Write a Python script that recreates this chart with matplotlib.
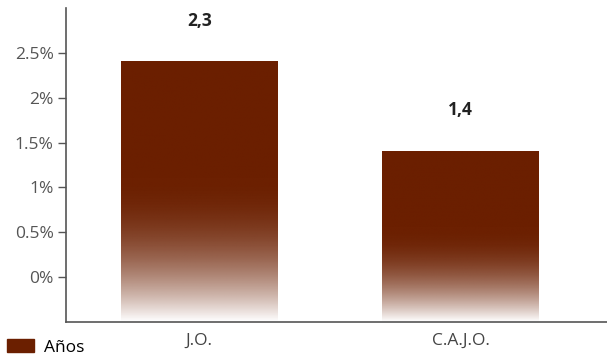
import matplotlib.pyplot as plt
import numpy as np
from matplotlib.patches import Patch

categories = ["J.O.", "C.A.J.O."]
values = [2.4, 1.4]
value_labels = ["2,3", "1,4"]
yticks = [0, 0.5, 1, 1.5, 2, 2.5]
ytick_labels = ["0%", "0.5%", "1%", "1.5%", "2%", "2.5%"]
legend_label = "Años"

bar_color = np.array([107, 31, 0]) / 255.0
plt.rcParams['font.family'] = ['Open Sans', 'DejaVu Sans']

fig = plt.figure(figsize=(6.07, 3.56), dpi=100)
ax = fig.add_axes([66 / 607, 34 / 356, (607 - 66) / 607, (322 - 8) / 356])

ymin, ymax = -0.5, 3.0
ax.set_xlim(-0.51, 1.56)
ax.set_ylim(ymin, ymax)

x = np.arange(len(categories))
width = 0.6
bars = ax.bar(x, np.array(values) - ymin, bottom=ymin, width=width, color="none")

# vertical gradient: solid on top, fading to white at the bottom
n = 256
for b, v in zip(bars, values):
    t = np.linspace(0, 1, n)  # 0 top, 1 bottom
    s = np.clip((t - 0.45) / 0.55, 0, 1)
    alpha = 1 - s ** 2
    img = np.zeros((n, 1, 4))
    img[:, 0, :3] = bar_color
    img[:, 0, 3] = alpha
    ax.imshow(img, extent=[b.get_x(), b.get_x() + b.get_width(), ymin, v],
              aspect="auto", interpolation="bilinear", zorder=2)

for xi, v, lab in zip(x, values, value_labels):
    ax.text(xi, v + 0.46, lab, ha="center", va="center", fontsize=12.5,
            fontweight="bold", color="#222222")

ax.set_xticks(x)
ax.set_xticklabels(categories, fontsize=12.5, color="#444444")
ax.set_yticks(yticks)
ax.set_yticklabels(ytick_labels, fontsize=12.5, color="#555555")
ax.tick_params(axis="x", length=0, pad=8)
ax.tick_params(axis="y", length=6, width=1, color="#555555", pad=3)

for s in ["top", "right"]:
    ax.spines[s].set_visible(False)
for s in ["left", "bottom"]:
    ax.spines[s].set_color("#555555")
    ax.spines[s].set_linewidth(1.2)

fig.legend(handles=[Patch(color=bar_color, label=legend_label)],
           loc="lower left", bbox_to_anchor=(-0.005, -0.028), frameon=False,
           fontsize=12.5, handlelength=1.55, handleheight=0.8, handletextpad=0.55,
           borderaxespad=0.2)

fig.savefig("out.png", dpi=100)
